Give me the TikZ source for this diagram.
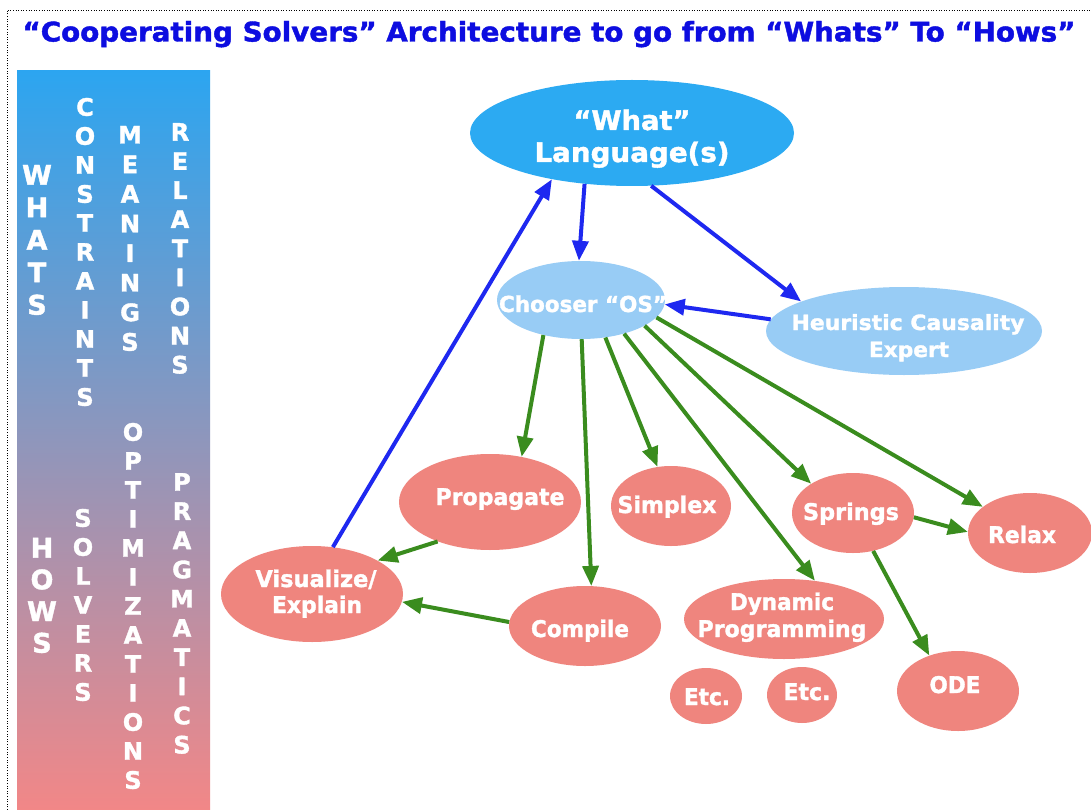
\documentclass[tikz,border=0pt]{standalone}
\usepackage{fontspec}
\setmainfont{DejaVu Sans}[BoldFeatures={FakeBold=1.5}]
\usepackage{graphicx}
\usetikzlibrary{arrows.meta,shapes.geometric}
\definecolor{titleblue}{RGB}{13,13,224}
\definecolor{skyblue}{RGB}{44,170,242}
\definecolor{paleblue}{RGB}{152,204,245}
\definecolor{salmon}{RGB}{239,133,126}
\definecolor{arrblue}{RGB}{30,40,240}
\definecolor{arrgreen}{RGB}{58,140,30}
\definecolor{bandtop}{RGB}{44,165,240}
\definecolor{bandmid}{RGB}{128,150,210}
\definecolor{bandbot}{RGB}{242,135,135}
\definecolor{peach}{RGB}{250,230,212}
\newcommand{\tw}[2]{\resizebox{#1}{\height}{#2}}
\newcommand{\fs}[2]{\bfseries\fontsize{#1}{#2}\selectfont}
\begin{document}
\begin{tikzpicture}[x=1pt,y=-1pt,
  ell/.style={ellipse, draw=none, inner sep=0pt},
  sal/.style={ell, fill=salmon},
  lbl/.style={text=white, anchor=base, inner sep=0pt, font=\fs{23}{23}},
  col/.style={text=white, align=center, inner sep=0pt},
  tip/.style={-{Triangle[length=20pt,width=16pt]}},
  barrow/.style={draw=arrblue, line width=4pt, tip},
  garrow/.style={draw=arrgreen, line width=4pt, tip}]
\useasboundingbox (0,0) rectangle (1091,810);
\fill[white] (0,0) rectangle (1091,810);
% frame
\draw[line width=0.6pt, dash pattern=on 1pt off 1.6pt] (7,810) -- (7,10) -- (1091,10);
% faint band
\shade[top color=white, middle color=peach, bottom color=white] (215,412) rectangle (1080,434);
% title
\node[text=titleblue, anchor=base, inner sep=0pt, font=\fs{27}{27}] (title) at (549,41.5)
  {\tw{1053pt}{“Cooperating Solvers” Architecture to go from “Whats” To “Hows”}};
% left band
\shade[top color=bandtop, middle color=bandmid, bottom color=bandbot] (17,71) rectangle (210,810);
\node[col, font=\fs{27}{32.5}] (whats) at (37,240) {W\\H\\A\\T\\S};
\node[col, font=\fs{24}{29}] (constraints) at (85,252) {C\\O\\N\\S\\T\\R\\A\\I\\N\\T\\S};
\node[col, font=\fs{24}{29.6}] (meanings) at (130,238.5) {M\\E\\A\\N\\I\\N\\G\\S};
\node[col, font=\fs{24}{29.1}] (relations) at (180,248.5) {R\\E\\L\\A\\T\\I\\O\\N\\S};
\node[col, font=\fs{27}{31.7}] (hows) at (42,595.5) {H\\O\\W\\S};
\node[col, font=\fs{24}{29}] (solvers) at (83,605) {S\\O\\L\\V\\E\\R\\S};
\node[col, font=\fs{24}{29}] (optimizations) at (133,606) {O\\P\\T\\I\\M\\I\\Z\\A\\T\\I\\O\\N\\S};
\node[col, font=\fs{24}{29.2}] (pragmatics) at (182,613.5) {P\\R\\A\\G\\M\\A\\T\\I\\C\\S};
% ellipses
\node[ell, fill=skyblue, minimum width=324pt, minimum height=106pt] (what) at (632,133) {};
\node[ell, fill=paleblue, minimum width=168pt, minimum height=78pt] (chooser) at (581,300) {};
\node[ell, fill=paleblue, minimum width=276pt, minimum height=88pt] (heur) at (904,331) {};
\node[sal, minimum width=182pt, minimum height=96pt] (prop) at (490,502) {};
\node[sal, minimum width=120pt, minimum height=80pt] (simplex) at (671,506) {};
\node[sal, minimum width=122pt, minimum height=80pt] (springs) at (853,513) {};
\node[sal, minimum width=124pt, minimum height=80pt] (relax) at (1030,533) {};
\node[sal, minimum width=182pt, minimum height=96pt] (vis) at (312,594) {};
\node[sal, minimum width=152pt, minimum height=80pt] (compile) at (585,626) {};
\node[sal, minimum width=200pt, minimum height=80pt] (dyn) at (784,619) {};
\node[sal, minimum width=72pt, minimum height=56pt] (etca) at (706,696) {};
\node[sal, minimum width=70pt, minimum height=56pt] (etcb) at (802,695) {};
\node[sal, minimum width=122pt, minimum height=80pt] (ode) at (958,691) {};
% texts
\node[lbl, font=\fs{27}{27}] (whatt1) at (632,130) {\tw{117pt}{“What”}};
\node[lbl, font=\fs{27}{27}] (whatt2) at (632,162) {\tw{195pt}{Language(s)}};
\node[lbl, font=\fs{22}{22}] (choosert) at (583,312) {\tw{168pt}{Chooser “OS”}};
\node[lbl, font=\fs{21}{21}] (heurt1) at (908,330) {\tw{233pt}{Heuristic Causality}};
\node[lbl, font=\fs{21}{21}] (heurt2) at (909,357) {\tw{80pt}{Expert}};
\node[lbl] (propt) at (500,505) {\tw{129pt}{Propagate}};
\node[lbl] (simplext) at (667,513) {\tw{99pt}{Simplex}};
\node[lbl] (springst) at (851,520) {\tw{96pt}{Springs}};
\node[lbl] (relaxt) at (1022,543) {\tw{68pt}{Relax}};
\node[lbl] (vist1) at (316,587) {\tw{121pt}{Visualize/}};
\node[lbl] (vist2) at (317,613) {\tw{90pt}{Explain}};
\node[lbl] (compilet) at (580,637) {\tw{98pt}{Compile}};
\node[lbl] (dynt1) at (782,610) {\tw{104pt}{Dynamic}};
\node[lbl] (dynt2) at (782,637) {\tw{169pt}{Programming}};
\node[lbl] (etcat) at (707,705) {\tw{46pt}{Etc.}};
\node[lbl] (etcbt) at (807,700) {\tw{47pt}{Etc.}};
\node[lbl] (odet) at (955,693) {\tw{51pt}{ODE}};
% blue arrows
\draw[barrow] (vis.66) -- (what.-150);
\draw[barrow] (what.-133) -- (chooser.93);
\draw[barrow] (what.-70) -- (heur.164);
\draw[barrow] (heur.175) -- (chooser.-3);
% green arrows
\draw[garrow] (chooser.-137) -- (prop.55);
\draw[garrow] (chooser.-89) -- (compile.81);
\draw[garrow] (chooser.-57) -- (simplex.109);
\draw[garrow] (chooser.-38) -- (dyn.51);
\draw[garrow] (chooser.-22) -- (springs.145);
\draw[garrow] (chooser.-13) -- (relax.151);
\draw[garrow] (prop.-143) -- (vis.27);
\draw[garrow] (compile.177) -- (vis.-5);
\draw[garrow] (springs.-4) -- (relax.179);
\draw[garrow] (springs.-62) -- (ode.129);
\end{tikzpicture}
\end{document}
